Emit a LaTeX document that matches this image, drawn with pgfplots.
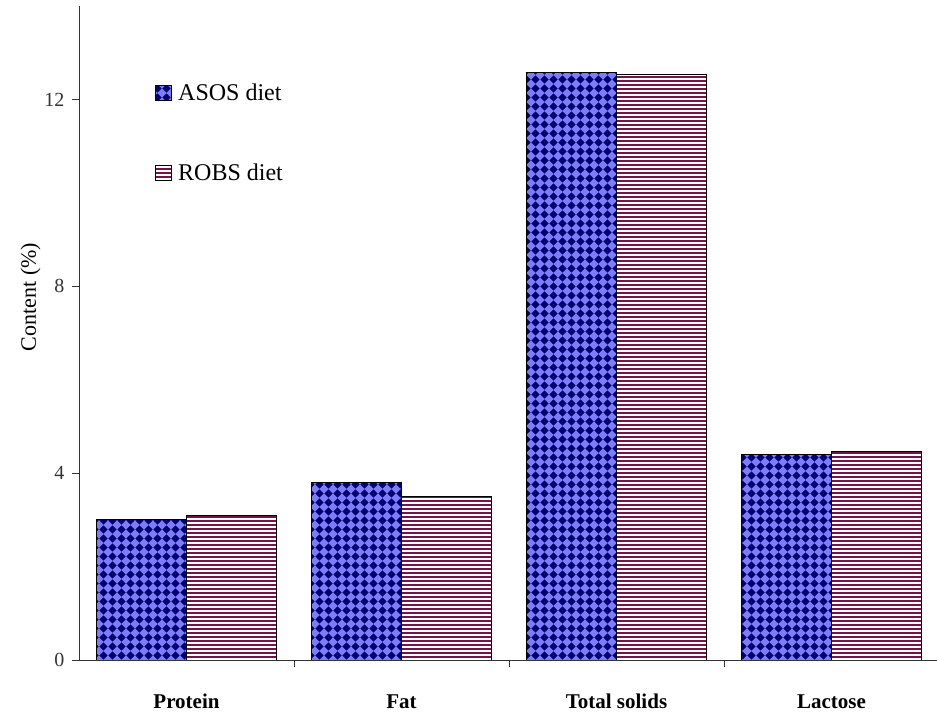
\documentclass[border=0pt]{standalone}
\usepackage{pgfplots}
\pgfplotsset{compat=1.18}
\usepackage{fontspec}
\setmainfont{Liberation Serif}
\usetikzlibrary{patterns}
\definecolor{asosbg}{RGB}{125,125,250}
\definecolor{asosdot}{RGB}{0,0,110}
\definecolor{robsline}{RGB}{115,20,70}
\pgfdeclarepatternformonly{asosdiamonds}{\pgfpoint{-1pt}{-1pt}}{\pgfpoint{10pt}{10pt}}{\pgfpoint{9pt}{9pt}}{%
  \pgfpathmoveto{\pgfpoint{4.5pt}{0.4pt}}%
  \pgfpathlineto{\pgfpoint{8.6pt}{4.5pt}}%
  \pgfpathlineto{\pgfpoint{4.5pt}{8.6pt}}%
  \pgfpathlineto{\pgfpoint{0.4pt}{4.5pt}}%
  \pgfpathclose\pgfusepath{fill}}
\pgfdeclarepatternformonly{robslines}{\pgfpoint{-1pt}{0pt}}{\pgfpoint{41pt}{4pt}}{\pgfpoint{40pt}{4pt}}{%
  \pgfpathrectangle{\pgfpoint{-1pt}{0pt}}{\pgfpoint{42pt}{2.1pt}}\pgfusepath{fill}}
\begin{document}
\begin{tikzpicture}
\begin{axis}[name=ax, scale only axis, width=860pt, height=654pt,
  ybar=0pt, bar width=90pt,
  xmin=-0.5, xmax=3.5, ymin=0, ymax=14,
  axis x line*=bottom, axis y line*=left,
  axis line style={line width=0.9pt, black!80},
  tick align=outside, major tick length=7pt,
  xtick={0,1,2,3}, xticklabels={Protein,Fat,Total solids,Lactose},
  xtick style={draw=none},
  extra x ticks={0.5,1.5,2.5}, extra x tick labels={},
  extra x tick style={xtick style={draw=black!80, line width=0.9pt}},
  xticklabel style={font=\bfseries\fontsize{21}{21}\selectfont, anchor=base, yshift=-42pt},
  ytick={0,4,8,12},
  ytick style={draw=black!80, line width=0.9pt},
  yticklabel style={font=\fontsize{20}{20}\selectfont, anchor=east, text=black!80, xshift=-4pt},
  /pgf/number format/assume math mode=true,
  ylabel={Content (\%)},
  ylabel style={font=\fontsize{22}{22}\selectfont, at={(axis description cs:-0.05,0.555)}, anchor=base},
  legend style={draw=none, fill=none, at={(axis description cs:0.085,0.888)}, anchor=north west,
    font=\fontsize{24}{24}\selectfont, row sep=58pt, column sep=4pt},
  legend cell align=left,
  legend image code/.code={\draw[#1] (0pt,-7.5pt) rectangle (16pt,7.5pt);},
]
\addplot[fill=asosbg, draw=black, line width=0.9pt,
  postaction={pattern=asosdiamonds, pattern color=asosdot}]
  coordinates {(0,3.01) (1,3.80) (2,12.57) (3,4.39)};
\addplot[fill=white, draw=black, line width=0.9pt,
  postaction={pattern=robslines, pattern color=robsline}]
  coordinates {(0,3.10) (1,3.51) (2,12.54) (3,4.47)};
\legend{ASOS diet, ROBS diet}
\end{axis}
\pgfresetboundingbox
\path ([xshift=-79pt,yshift=-54pt]ax.south west) rectangle ++(937pt,714pt);
\end{tikzpicture}
\end{document}
